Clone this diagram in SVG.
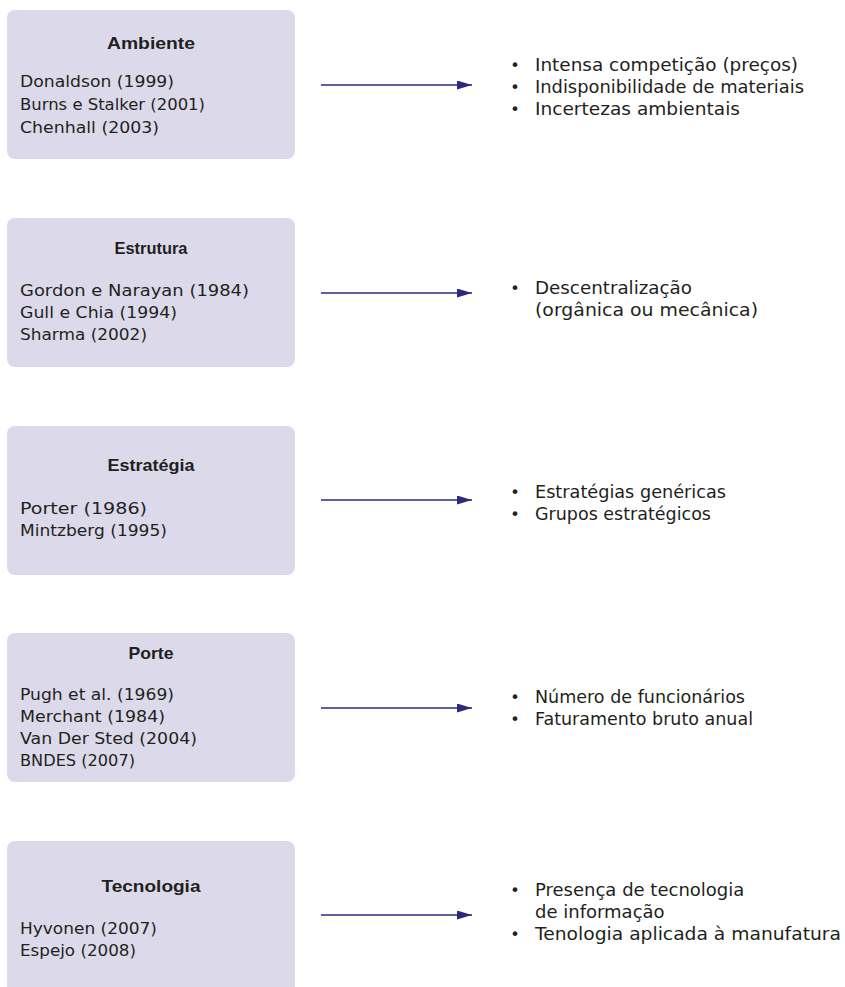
<svg xmlns="http://www.w3.org/2000/svg" width="845" height="987" viewBox="0 0 845 987">
<style>
.box{fill:#dcdaea}
.t{font-family:"DejaVu Sans","Liberation Sans",sans-serif;font-size:16.5px;fill:#231f20}
.r{font-family:"DejaVu Sans","Liberation Sans",sans-serif;font-size:18px;fill:#231f20}
.b{font-family:"DejaVu Sans","Liberation Sans",sans-serif;font-size:16px;fill:#231f20;text-anchor:middle}
.h{font-family:"Liberation Sans","Arial",sans-serif;font-size:17px;font-weight:bold;fill:#231f20;text-anchor:middle}
.c{stroke:#2b2a7e;stroke-width:1.3;fill:none}
</style>
<defs>
<marker id="ah" markerWidth="15" markerHeight="9" refX="15" refY="4.5" orient="auto" markerUnits="userSpaceOnUse">
<path d="M0,0 L15,4.5 L0,9 Z" fill="#2b2a7e"/>
</marker>
</defs>
<rect width="845" height="987" fill="#ffffff"/>
<g id="ambiente">
<rect class="box" x="7" y="10" width="288" height="149" rx="8"/>
<text class="h" x="151" y="49" textLength="88" lengthAdjust="spacingAndGlyphs">Ambiente</text>
<text class="t" x="20" y="87" textLength="154" lengthAdjust="spacingAndGlyphs">Donaldson (1999)</text>
<text class="t" x="20" y="110" textLength="185" lengthAdjust="spacingAndGlyphs">Burns e Stalker (2001)</text>
<text class="t" x="20" y="133" textLength="139" lengthAdjust="spacingAndGlyphs">Chenhall (2003)</text>
</g>
<g id="ambiente-itens">
<text class="b" x="515" y="71">•</text>
<text class="r" x="535" y="71" textLength="263" lengthAdjust="spacingAndGlyphs">Intensa competição (preços)</text>
<text class="b" x="515" y="93">•</text>
<text class="r" x="535" y="93" textLength="269" lengthAdjust="spacingAndGlyphs">Indisponibilidade de materiais</text>
<text class="b" x="515" y="115">•</text>
<text class="r" x="535" y="115" textLength="205" lengthAdjust="spacingAndGlyphs">Incertezas ambientais</text>
</g>
<g id="estrutura">
<rect class="box" x="7" y="218" width="288" height="149" rx="8"/>
<text class="h" x="151" y="254" textLength="73" lengthAdjust="spacingAndGlyphs">Estrutura</text>
<text class="t" x="20" y="296" textLength="229" lengthAdjust="spacingAndGlyphs">Gordon e Narayan (1984)</text>
<text class="t" x="20" y="318" textLength="157" lengthAdjust="spacingAndGlyphs">Gull e Chia (1994)</text>
<text class="t" x="20" y="340" textLength="127" lengthAdjust="spacingAndGlyphs">Sharma (2002)</text>
</g>
<g id="estrutura-itens">
<text class="b" x="515" y="294">•</text>
<text class="r" x="535" y="294" textLength="157" lengthAdjust="spacingAndGlyphs">Descentralização</text>
<text class="r" x="535" y="316" textLength="223" lengthAdjust="spacingAndGlyphs">(orgânica ou mecânica)</text>
</g>
<g id="estrategia">
<rect class="box" x="7" y="426" width="288" height="149" rx="8"/>
<text class="h" x="151" y="471" textLength="87" lengthAdjust="spacingAndGlyphs">Estratégia</text>
<text class="t" x="20" y="514" textLength="127" lengthAdjust="spacingAndGlyphs">Porter (1986)</text>
<text class="t" x="20" y="536" textLength="147" lengthAdjust="spacingAndGlyphs">Mintzberg (1995)</text>
</g>
<g id="estrategia-itens">
<text class="b" x="515" y="498">•</text>
<text class="r" x="535" y="498" textLength="191" lengthAdjust="spacingAndGlyphs">Estratégias genéricas</text>
<text class="b" x="515" y="520">•</text>
<text class="r" x="535" y="520" textLength="176" lengthAdjust="spacingAndGlyphs">Grupos estratégicos</text>
</g>
<g id="porte">
<rect class="box" x="7" y="633" width="288" height="149" rx="8"/>
<text class="h" x="151" y="659" textLength="45" lengthAdjust="spacingAndGlyphs">Porte</text>
<text class="t" x="20" y="700" textLength="154" lengthAdjust="spacingAndGlyphs">Pugh et al. (1969)</text>
<text class="t" x="20" y="722" textLength="145" lengthAdjust="spacingAndGlyphs">Merchant (1984)</text>
<text class="t" x="20" y="744" textLength="177" lengthAdjust="spacingAndGlyphs">Van Der Sted (2004)</text>
<text class="t" x="20" y="766" textLength="115" lengthAdjust="spacingAndGlyphs">BNDES (2007)</text>
</g>
<g id="porte-itens">
<text class="b" x="515" y="703">•</text>
<text class="r" x="535" y="703" textLength="210" lengthAdjust="spacingAndGlyphs">Número de funcionários</text>
<text class="b" x="515" y="725">•</text>
<text class="r" x="535" y="725" textLength="218" lengthAdjust="spacingAndGlyphs">Faturamento bruto anual</text>
</g>
<g id="tecnologia">
<rect class="box" x="7" y="841" width="288" height="160" rx="8"/>
<text class="h" x="151" y="892" textLength="99" lengthAdjust="spacingAndGlyphs">Tecnologia</text>
<text class="t" x="20" y="934" textLength="137" lengthAdjust="spacingAndGlyphs">Hyvonen (2007)</text>
<text class="t" x="20" y="956" textLength="116" lengthAdjust="spacingAndGlyphs">Espejo (2008)</text>
</g>
<g id="tecnologia-itens">
<text class="b" x="515" y="896">•</text>
<text class="r" x="535" y="896">Presença de tecnologia</text>
<text class="r" x="535" y="918">de informação</text>
<text class="b" x="515" y="940">•</text>
<text class="r" x="535" y="940" textLength="306" lengthAdjust="spacingAndGlyphs">Tenologia aplicada à manufatura</text>
</g>
<g id="connectors">
<line class="c" x1="321" y1="85" x2="472" y2="85" marker-end="url(#ah)"/>
<line class="c" x1="321" y1="293" x2="472" y2="293" marker-end="url(#ah)"/>
<line class="c" x1="321" y1="500" x2="472" y2="500" marker-end="url(#ah)"/>
<line class="c" x1="321" y1="708" x2="472" y2="708" marker-end="url(#ah)"/>
<line class="c" x1="321" y1="915" x2="472" y2="915" marker-end="url(#ah)"/>
</g>
</svg>
